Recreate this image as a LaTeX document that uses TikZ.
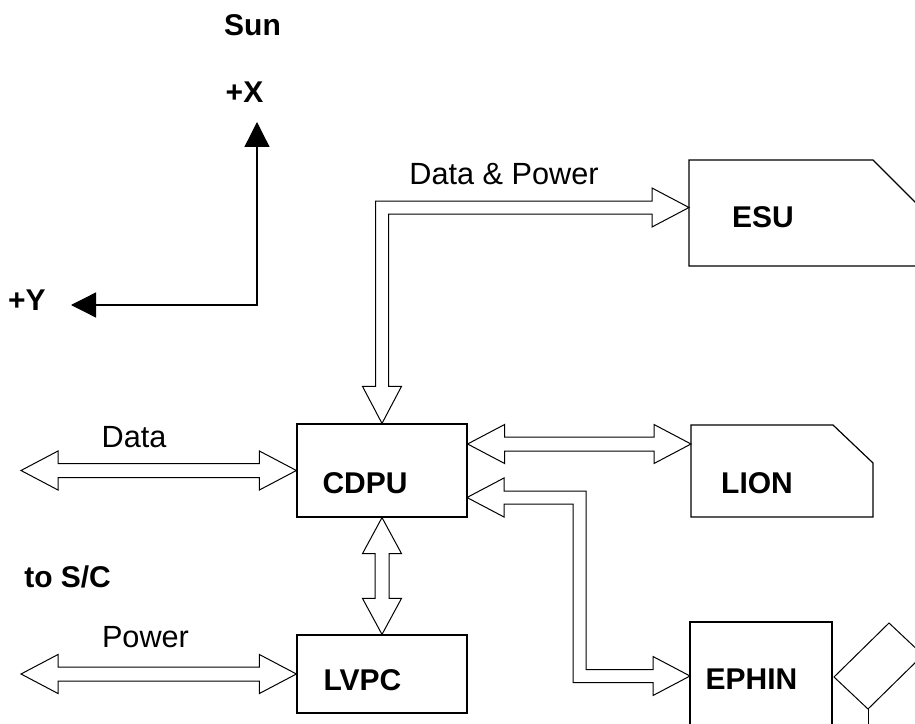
\documentclass[tikz,border=0pt]{standalone}
\usepackage{fontspec}
\setmainfont{Liberation Sans}
\usetikzlibrary{calc,arrows.meta}
\begin{document}
\begin{tikzpicture}[x=0.75pt,y=-0.75pt,
  box/.style={draw, line width=0.9pt, inner sep=0pt},
  blk/.style={draw, line width=0.75pt, fill=white, line join=miter},
  bold/.style={font=\fontsize{22.5}{27}\selectfont\bfseries, anchor=base, inner sep=0pt},
  plain/.style={font=\fontsize{23}{28}\selectfont, anchor=base, inner sep=0pt},
  axis/.style={line width=1pt, >={Triangle[length=18.75pt,width=18.75pt]}, <->},
  % horizontal double-headed block arrow, left tip to right tip
  hdbl/.style={to path={
    -- ($(\tikztostart)+(37,-19.5)$) -- ($(\tikztostart)+(37,-7)$)
    -- ($(\tikztotarget)+(-37,-7)$) -- ($(\tikztotarget)+(-37,-19.5)$)
    -- (\tikztotarget)
    -- ($(\tikztotarget)+(-37,19.5)$) -- ($(\tikztotarget)+(-37,7)$)
    -- ($(\tikztostart)+(37,7)$) -- ($(\tikztostart)+(37,19.5)$) -- cycle}},
  % vertical double-headed block arrow, top tip to bottom tip
  vdbl/.style={to path={
    -- ($(\tikztostart)+(19.5,36)$) -- ($(\tikztostart)+(7,36)$)
    -- ($(\tikztotarget)+(7,-36)$) -- ($(\tikztotarget)+(19.5,-36)$)
    -- (\tikztotarget)
    -- ($(\tikztotarget)+(-19.5,-36)$) -- ($(\tikztotarget)+(-7,-36)$)
    -- ($(\tikztostart)+(-7,36)$) -- ($(\tikztostart)+(-19.5,36)$) -- cycle}}
]
\useasboundingbox (0,0) rectangle (915,724);
\clip (0,0) rectangle (915,724);

% spacecraft axes
\coordinate (origin) at (257,305);
\coordinate (xaxis) at (257,122);
\coordinate (yaxis) at (71,305);
\draw[axis] (yaxis) -- (origin) -- (xaxis);
\node[bold] (sun) at (252.5,36) {Sun};
\node[bold] (xlab) at (244.5,103) {+X};
\node[bold, anchor=base east] (ylab) at (46,310) {+Y};

% units
\node[box, minimum width=127.5pt, minimum height=69.75pt] (cdpu) at (382,470.5) {};
\node[box, minimum width=127.5pt, minimum height=58.5pt] (lvpc) at (382,674) {};
\draw[box] (930,217) -- (873,160) -- (689,160) -- (689,266) -- (930,266);
\draw[box] (691,425) -- (833,425) -- (873,463) -- (873,517) -- (691,517) -- cycle;
\draw[box] (690,740) -- (690,622) -- (832,622) -- (832,740);
% sensor head beside EPHIN
\draw[line width=0.75pt] (868,709) -- (834,677) -- (889,623) -- (923,655) -- cycle;
\draw[line width=0.75pt] (868,709) -- (868,740);

\node[bold] (esu) at (763,227) {ESU};
\node[bold] (cdpul) at (365,493) {CDPU};
\node[bold] (lion) at (757,493) {LION};
\node[bold] (lvpcl) at (362.5,690) {LVPC};
\node[bold] (ephin) at (751.5,689) {EPHIN};

% interface points
\coordinate (sc-data) at (21,470.5);
\coordinate (sc-pwr) at (21,674);
\coordinate (lion-in) at (691,444);
\coordinate (cdpu-lion) at (cdpu.east |- lion-in);
\coordinate (esu-in) at (689,207.5);
\coordinate (dp-bend) at (cdpu.north |- esu-in);
\coordinate (ephin-in) at (690,676);
\coordinate (cdpu-ephin) at (467,497.5);
\coordinate (ep-bend1) at (579.5,497.5);
\coordinate (ep-bend2) at (579.5,676);

% links to the spacecraft
\draw[blk, hdbl] (sc-data) to (cdpu.west);
\draw[blk, hdbl] (sc-pwr) to (lvpc.west);
\node[plain] (datalab) at (134,447) {Data};
\node[plain] (pwrlab) at (145.5,647) {Power};
\node[bold, anchor=base west] (sclab) at (24,587) {to S/C};

% internal links
\draw[blk, hdbl] (cdpu-lion) to (lion-in);
\draw[blk, vdbl] (cdpu.south) to (lvpc.north);

% CDPU <-> ESU, data and power
\draw[blk] (esu-in) -- ($(esu-in)+(-37,-19.5)$) -- ($(esu-in)+(-37,-6.5)$)
  -- ($(dp-bend)+(-6.5,-6.5)$) -- ($(cdpu.north)+(-6.5,-37)$)
  -- ($(cdpu.north)+(-19.5,-37)$) -- (cdpu.north) -- ($(cdpu.north)+(19.5,-37)$)
  -- ($(cdpu.north)+(6.5,-37)$) -- ($(dp-bend)+(6.5,6.5)$)
  -- ($(esu-in)+(-37,6.5)$) -- ($(esu-in)+(-37,19.5)$) -- cycle;
\node[plain] (dplab) at (504,185) {Data \& Power};

% CDPU <-> EPHIN
\draw[blk] (cdpu-ephin) -- ($(cdpu-ephin)+(37,-19.5)$) -- ($(cdpu-ephin)+(37,-6.5)$)
  -- ($(ep-bend1)+(6.5,-6.5)$) -- ($(ep-bend2)+(6.5,-6.5)$)
  -- ($(ephin-in)+(-37,-6.5)$) -- ($(ephin-in)+(-37,-19.5)$) -- (ephin-in)
  -- ($(ephin-in)+(-37,19.5)$) -- ($(ephin-in)+(-37,6.5)$)
  -- ($(ep-bend2)+(-6.5,6.5)$) -- ($(ep-bend1)+(-6.5,6.5)$)
  -- ($(cdpu-ephin)+(37,6.5)$) -- ($(cdpu-ephin)+(37,19.5)$) -- cycle;
\end{tikzpicture}
\end{document}
